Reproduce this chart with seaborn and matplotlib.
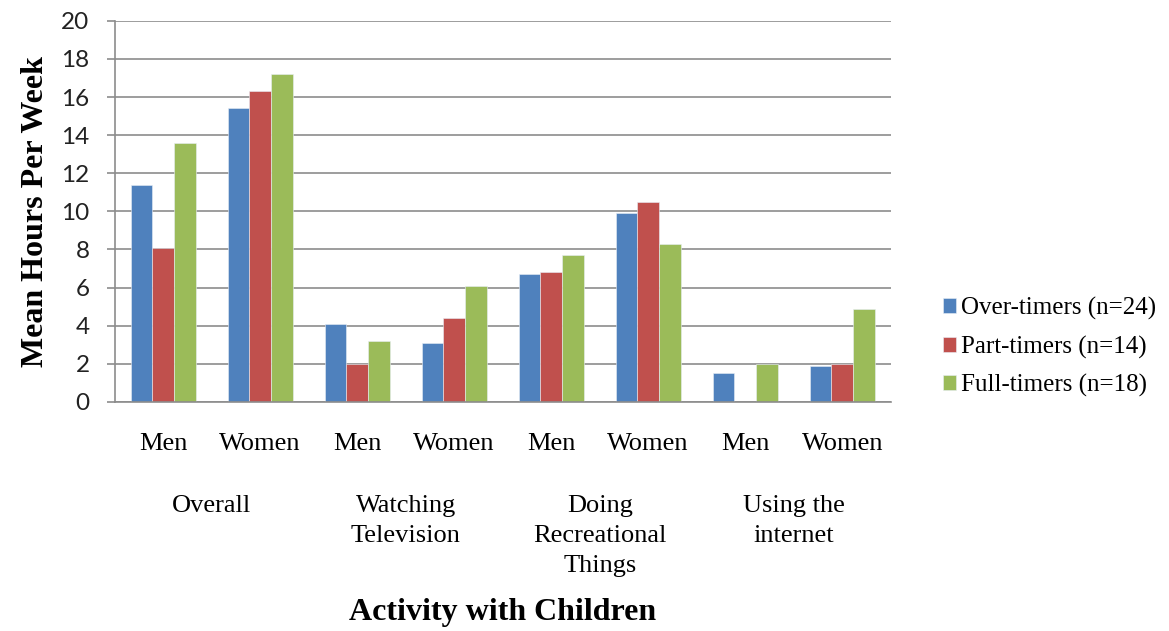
import matplotlib
matplotlib.use("Agg")
import matplotlib.pyplot as plt
import seaborn as sns
import pandas as pd
import numpy as np

# data
groups = ["Overall", "Watching\nTelevision", "Doing\nRecreational\nThings", "Using the\ninternet"]
sexes = ["Men", "Women"]
series = ["Over-timers (n=24)", "Part-timers (n=14)", "Full-timers (n=18)"]
over_timers = [11.4, 15.4, 4.1, 3.1, 6.7, 9.9, 1.5, 1.9]
part_timers = [8.1, 16.3, 2.0, 4.4, 6.8, 10.5, 0.0, 2.0]
full_timers = [13.6, 17.2, 3.2, 6.1, 7.7, 8.3, 2.0, 4.9]
colors = ["#4F81BD", "#C0504D", "#9BBB59"]

slots = [f"{g}|{s}" for g in groups for s in sexes]
rows = []
for name, vals in zip(series, [over_timers, part_timers, full_timers]):
    for slot, v in zip(slots, vals):
        rows.append({"slot": slot, "series": name, "hours": v})
df = pd.DataFrame(rows)

sns.set_style("white")
plt.rcParams["font.family"] = ["Liberation Serif", "DejaVu Serif"]
plt.rcParams["text.color"] = "black"
plt.rcParams["xtick.color"] = "black"
plt.rcParams["ytick.color"] = "black"
plt.rcParams["axes.labelcolor"] = "black"

fig = plt.figure(figsize=(11.69, 6.31), dpi=100)
ax = fig.add_axes([0.098, 0.363, 0.664, 0.604])

sns.barplot(data=df, x="slot", y="hours", hue="series", order=slots,
            hue_order=series, palette=colors, width=0.67, saturation=1,
            edgecolor="#e8eef6", linewidth=0.4, ax=ax, legend=True)

ax.set_ylim(0, 20)
ax.set_yticks(np.arange(0, 21, 2))
ax.set_xlim(-0.5, len(slots) - 0.5)
ax.yaxis.grid(True, color="#8c8c8c", linewidth=1.2)
ax.set_axisbelow(True)
for side in ["top", "right"]:
    ax.spines[side].set_visible(False)
for side in ["left", "bottom"]:
    ax.spines[side].set_color("#8c8c8c")
    ax.spines[side].set_linewidth(1.2)

ax.tick_params(axis="y", left=True, length=6, width=1.2, color="#8c8c8c", pad=12)
for lab in ax.get_yticklabels():
    lab.set_fontfamily(["Lato", "DejaVu Sans"])
    lab.set_fontsize(17.5)
    lab.set_color("#222222")
ax.tick_params(axis="x", bottom=False, labelsize=19, pad=19)
ax.set_xticks(range(len(slots)))
ax.set_xticklabels([s.split("|")[1] for s in slots])

for i, g in enumerate(groups):
    ax.text(2 * i + 0.5, -0.245, g, transform=ax.get_xaxis_transform(),
            ha="center", va="top", fontsize=19, linespacing=1.45)

ax.set_xlabel("")
ax.set_ylabel("Mean Hours Per Week", fontsize=23, fontweight="bold", labelpad=8)
fig.text(0.43, 0.03, "Activity with Children", ha="center", va="center",
         fontsize=23, fontweight="bold")

handles, labels = ax.get_legend_handles_labels()
ax.get_legend().remove()
fig.legend(handles, labels, loc="center left", bbox_to_anchor=(0.787, 0.45),
           frameon=False, fontsize=18, handlelength=0.55, handleheight=0.55,
           handletextpad=0.2, labelspacing=0.62)

fig.savefig("out.png", dpi=100)
